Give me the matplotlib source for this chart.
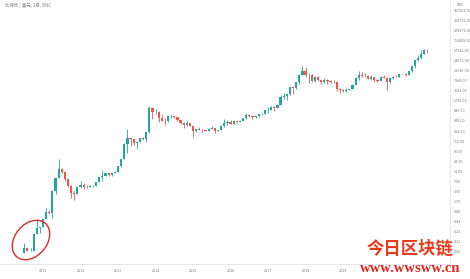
import numpy as np
import matplotlib.pyplot as plt
from matplotlib.patches import Ellipse

# monthly candles, Jul 2010 .. Apr 2021 (open, high, low, close)
opens = [0.05, 0.07, 0.06, 0.06, 0.19, 0.28,
	0.30, 0.52, 0.86, 0.78, 3.50, 8.74, 16.1, 13.4, 8.2, 5.1, 3.2, 3.0,
	4.7, 5.5, 4.9, 4.9, 5.0, 5.2, 6.7, 9.4, 10.2, 12.4, 11.2, 12.6,
	13.5, 20.4, 33.4, 93, 139, 129, 97, 106, 141, 133, 204, 1128,
	805, 830, 549, 457, 448, 628, 636, 581, 478, 387, 338, 378,
	320, 217, 254, 244, 236, 230, 263, 284, 230, 236, 313, 377,
	430, 369, 437, 416, 448, 531, 673, 624, 575, 609, 699, 743,
	963, 970, 1190, 1080, 1350, 2300, 2480, 2880, 4700, 4340, 6470, 10230,
	13850, 10220, 10330, 6930, 9240, 7490, 6390, 7730, 7030, 6630, 6320, 4040,
	3740, 3460, 3850, 4110, 5350, 8560, 10820, 10090, 9590, 8290, 9150, 7550,
	7190, 9390, 8540, 6420, 8630, 9450, 9140, 11350, 11660, 10780, 13800, 19700,
	28990, 33100, 45200, 58800]
highs = [0.10, 0.07, 0.07, 0.20, 0.50, 0.30,
	0.52, 1.10, 0.98, 3.90, 8.90, 31.9, 17.5, 13.9, 8.3, 5.3, 3.5, 4.8,
	7.4, 6.3, 5.4, 5.3, 5.3, 6.7, 9.7, 15.4, 12.9, 12.8, 12.7, 13.9,
	20.6, 33.4, 95, 266, 140, 130, 111, 140, 147, 213, 1240, 1163,
	1022, 860, 710, 540, 632, 683, 650, 594, 493, 418, 457, 389,
	320, 264, 300, 261, 247, 268, 317, 285, 242, 334, 503, 466,
	462, 448, 440, 467, 548, 780, 705, 627, 612, 720, 757, 980,
	1150, 1210, 1290, 1420, 2760, 3000, 2920, 4770, 5000, 6470, 11500, 19800,
	17700, 11800, 11700, 9800, 10000, 7770, 8500, 7760, 7410, 7450, 6600, 4400,
	4110, 4200, 4130, 5620, 9100, 13880, 13130, 12330, 10920, 10350, 9500, 7750,
	9580, 10500, 9190, 9470, 10070, 10400, 11450, 12480, 12100, 14100, 19900, 29300,
	41950, 58350, 61780, 64850]
lows = [0.05, 0.06, 0.06, 0.06, 0.19, 0.20,
	0.30, 0.72, 0.73, 0.56, 2.95, 8.74, 12.5, 7.1, 4.7, 2.3, 2.0, 2.9,
	4.6, 4.1, 4.5, 4.8, 4.9, 5.2, 6.5, 7.1, 10.2, 10.2, 10.5, 12.4,
	13.2, 19.1, 33.3, 50, 79, 88, 65, 102, 119, 104, 198, 522,
	735, 420, 440, 340, 422, 553, 565, 440, 366, 275, 324, 310,
	152, 213, 236, 214, 228, 221, 253, 199, 225, 236, 302, 349,
	353, 368, 395, 414, 436, 520, 604, 520, 567, 606, 675, 741,
	750, 940, 890, 1080, 1350, 2080, 1840, 2690, 2950, 4150, 5520, 10230,
	9100, 5950, 6630, 6580, 7040, 5780, 6100, 5880, 6100, 6200, 3470, 3140,
	3370, 3390, 3730, 4090, 5330, 7470, 9080, 9350, 7750, 7300, 6550, 6430,
	6870, 8450, 3850, 6150, 8110, 8900, 8960, 10950, 9850, 10410, 13200, 17600,
	28130, 32300, 45000, 47000]
closes = [0.07, 0.06, 0.06, 0.19, 0.28, 0.30,
	0.52, 0.86, 0.78, 3.50, 8.74, 16.1, 13.4, 8.2, 5.1, 3.2, 3.0, 4.7,
	5.5, 4.9, 4.9, 5.0, 5.2, 6.7, 9.4, 10.2, 12.4, 11.2, 12.6, 13.5,
	20.4, 33.4, 93, 139, 129, 97, 106, 141, 133, 204, 1128, 805,
	830, 549, 457, 448, 628, 636, 581, 478, 387, 338, 378, 320,
	217, 254, 244, 236, 230, 263, 284, 230, 236, 313, 377, 430,
	369, 437, 416, 448, 531, 673, 624, 575, 609, 699, 743, 963,
	970, 1190, 1080, 1350, 2300, 2480, 2880, 4700, 4340, 6470, 10230, 13850,
	10220, 10330, 6930, 9240, 7490, 6390, 7730, 7030, 6630, 6320, 4040, 3740,
	3460, 3850, 4110, 5350, 8560, 10820, 10090, 9590, 8290, 9150, 7550, 7190,
	9390, 8540, 6420, 8630, 9450, 9140, 11350, 11660, 10780, 13800, 19700, 28990,
	33100, 45200, 58800, 57700]

# 2020 label sits under the watermark in the original, so it is left out
years = [2011, 2012, 2013, 2014, 2015, 2016, 2017, 2018, 2019]
year_idx = [6, 18, 30, 42, 54, 66, 78, 90, 102]   # month index of each January
price_ticks = [0.0546875 * 2 ** k for k in range(25)]
price_labels = ["%.2f" % v for v in price_ticks]

title = "比特币 / 美元, 1月, BNC"
wm_cn = "今日区块链"
wm_url = "www.wwsww.cn"

up_col = "#26a69a"
dn_col = "#ef5350"

o = np.array(opens); h = np.array(highs); l = np.array(lows); c = np.array(closes)
idx = np.arange(len(o))
col = np.where(c >= o, up_col, dn_col)

fig = plt.figure(figsize=(4.7, 2.79), dpi=100)
ax = fig.add_axes([0, 15/279, 450/470, 264/279])
ax.set_yscale("log")

ax.vlines(idx, l, h, colors=col, linewidth=0.6)
ax.bar(idx, np.abs(c - o), bottom=np.minimum(o, c), width=0.7, color=col, linewidth=0)

ax.set_xlim(-7.76, 136.2)
ax.set_ylim(0.0239, 1.835e6)

ax.yaxis.tick_right()
ax.set_yticks(price_ticks)
ax.set_yticklabels(price_labels)
ax.yaxis.set_minor_locator(plt.NullLocator())
ax.set_xticks(year_idx)
ax.set_xticklabels([str(y) for y in years])
ax.tick_params(axis="y", length=0, pad=2.5, labelsize=2.3, labelcolor="#777777")
ax.tick_params(axis="x", length=0, pad=3.5, labelsize=2.3, labelcolor="#777777")
for s in ["top", "left"]:
	ax.spines[s].set_visible(False)
for s in ["right", "bottom"]:
	ax.spines[s].set_color("#e0e3eb")
	ax.spines[s].set_linewidth(0.6)

# overlay in pixel coords for the annotations
ov = fig.add_axes([0, 0, 1, 1], facecolor="none")
ov.set_xlim(0, 470)
ov.set_ylim(279, 0)
ov.axis("off")

ov.text(5, 5, title, fontsize=3.2, color="#888888", va="center", ha="left",
	family=["Noto Sans CJK SC", "DejaVu Sans"])
ov.text(460, 4.5, "USD", fontsize=2.3, color="#777777", va="center", ha="center")

ov.add_patch(Ellipse((31, 240), 44, 32, angle=-50, fill=False, edgecolor="#d92b2b", linewidth=1.0))

ov.text(410, 249, wm_cn, fontsize=12.5, color="#ec3a1c", fontweight="bold",
	ha="center", va="center", family=["Noto Sans CJK SC"])
ov.text(410, 268, wm_url, fontsize=10.5, color="#e3261c", fontweight="bold",
	ha="center", va="center", family=["Liberation Serif"])

fig.savefig("out.png", dpi=100)
